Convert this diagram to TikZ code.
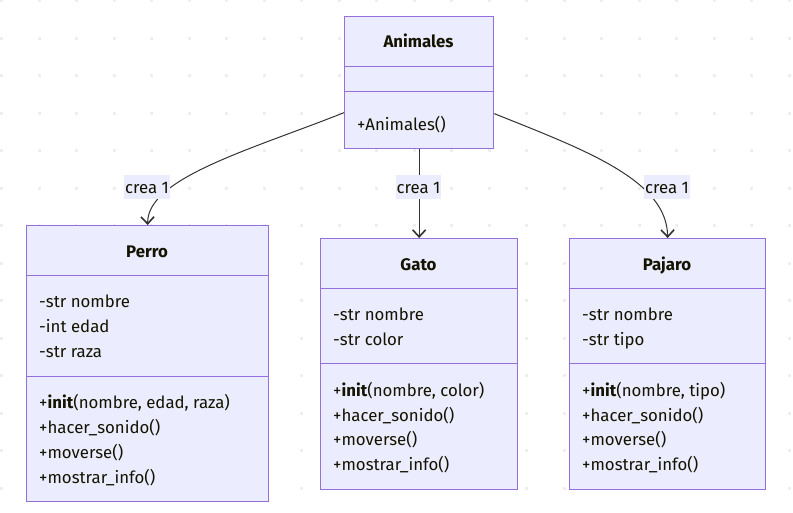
\documentclass[tikz,border=0pt]{standalone}
\usepackage{fontspec}
\setmainfont{Fira Sans}
\usetikzlibrary{arrows.meta}
\definecolor{boxfill}{HTML}{ECECFF}
\definecolor{boxline}{HTML}{9370DB}
\definecolor{edgecol}{HTML}{333333}
\definecolor{txt}{HTML}{131300}
\definecolor{dotcol}{HTML}{EEEEEE}
\tikzset{
  classbox/.style={draw=boxline, fill=boxfill, line width=1.3pt, inner sep=0pt, anchor=north west},
  divider/.style={draw=boxline, line width=1pt},
  title/.style={font=\bfseries\fontsize{16.8}{20}\selectfont, text=txt, inner sep=0pt, text height=15pt, text depth=2pt},
  member/.style={font=\fontsize{16.8}{20}\selectfont, text=txt, inner sep=0pt, anchor=west, text height=15pt, text depth=2pt},
  conn/.style={draw=edgecol, line width=1pt, -{Straight Barb[length=7pt,width=13pt,line width=1.6pt]}},
  lbl/.style={fill=boxfill, font=\fontsize{16.8}{20}\selectfont, text=txt, inner xsep=1pt, inner ysep=0pt, text height=18pt, text depth=6pt}
}
\begin{document}
\begin{tikzpicture}[x=1pt,y=-1pt]
\useasboundingbox (0,0) rectangle (793,512);
\fill[white] (0,0) rectangle (793,512);
\foreach \i in {0,...,21}{\foreach \j in {0,...,13}{
  \fill[dotcol] (\i*37.5, \j*37.5-1) rectangle ++(3,3);}}

% class boxes
\node[classbox, minimum width=149pt, minimum height=132pt] (animales) at (344,16) {};
\node[classbox, minimum width=242pt, minimum height=276pt] (perro) at (26,225) {};
\node[classbox, minimum width=197pt, minimum height=251pt] (gato) at (320,238) {};
\node[classbox, minimum width=196pt, minimum height=251pt] (pajaro) at (569,238) {};

% dividers
\draw[divider] (animales.west |- 0,66) -- (animales.east |- 0,66);
\draw[divider] (animales.west |- 0,91) -- (animales.east |- 0,91);
\draw[divider] (perro.west |- 0,275.5) -- (perro.east |- 0,275.5);
\draw[divider] (perro.west |- 0,376) -- (perro.east |- 0,376);
\draw[divider] (gato.west |- 0,288.5) -- (gato.east |- 0,288.5);
\draw[divider] (gato.west |- 0,363.5) -- (gato.east |- 0,363.5);
\draw[divider] (pajaro.west |- 0,288.5) -- (pajaro.east |- 0,288.5);
\draw[divider] (pajaro.west |- 0,363.5) -- (pajaro.east |- 0,363.5);

% titles
\node[title] (tanimales) at (418.5,41) {Animales};
\node[title] (tperro) at (147,251) {Perro};
\node[title] (tgato) at (418.5,263.5) {Gato};
\node[title] (tpajaro) at (667,263.5) {Pajaro};

% members
\node[member] (a1) at (357,124) {+Animales()};

\node[member] (p1) at (39,301) {-str nombre};
\node[member] (p2) at (39,326) {-int edad};
\node[member] (p3) at (39,351) {-str raza};
\node[member] (p4) at (39,402) {+\textbf{init}(nombre, edad, raza)};
\node[member] (p5) at (39,427) {+hacer\_sonido()};
\node[member] (p6) at (39,452) {+moverse()};
\node[member] (p7) at (39,477) {+mostrar\_info()};

\node[member] (g1) at (333,313.5) {-str nombre};
\node[member] (g2) at (333,338.5) {-str color};
\node[member] (g3) at (333,390) {+\textbf{init}(nombre, color)};
\node[member] (g4) at (333,414.5) {+hacer\_sonido()};
\node[member] (g5) at (333,439) {+moverse()};
\node[member] (g6) at (333,464) {+mostrar\_info()};

\node[member] (b1) at (582,313.5) {-str nombre};
\node[member] (b2) at (582,338.5) {-str tipo};
\node[member] (b3) at (582,390) {+\textbf{init}(nombre, tipo)};
\node[member] (b4) at (582,414.5) {+hacer\_sonido()};
\node[member] (b5) at (582,439) {+moverse()};
\node[member] (b6) at (582,464) {+mostrar\_info()};

% connectors
\draw[conn] ([yshift=-30pt]animales.west) .. controls (250,150) and (147,178) .. (perro.north);
\draw[conn] (animales.south) -- (gato.north);
\draw[conn] ([yshift=-31pt]animales.east) .. controls (585,150) and (667,180) .. (pajaro.north);

% labels
\node[lbl] (l1) at (147,187) {crea 1};
\node[lbl] (l2) at (418.5,187) {crea 1};
\node[lbl] (l3) at (667,187) {crea 1};
\end{tikzpicture}
\end{document}
